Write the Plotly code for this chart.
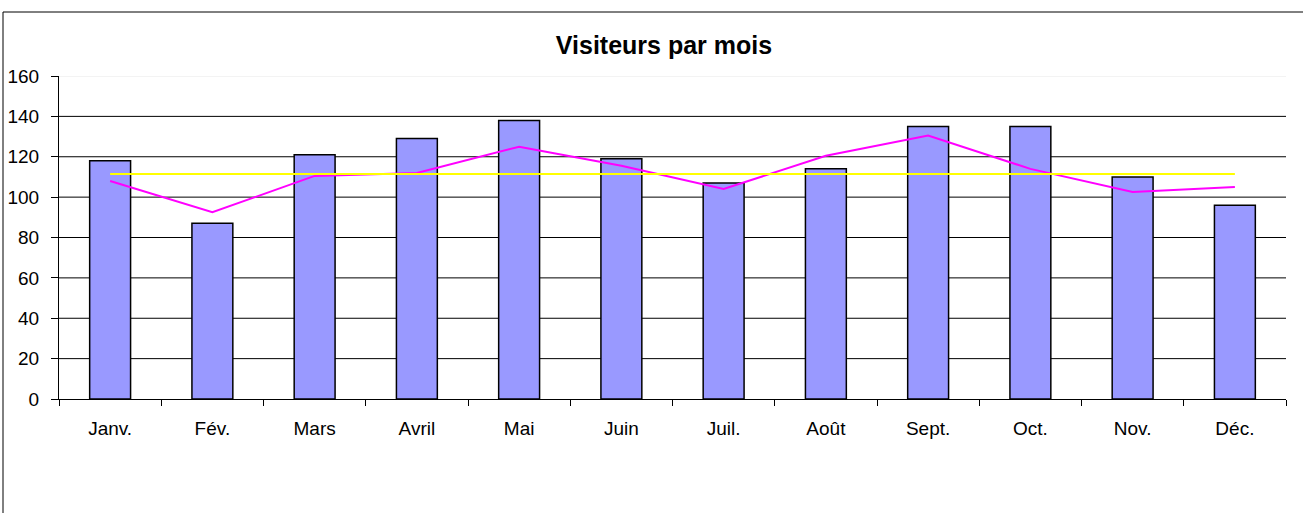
import plotly.graph_objects as go

months = ["Janv.", "Fév.", "Mars", "Avril", "Mai", "Juin", "Juil.", "Août", "Sept.", "Oct.", "Nov.", "Déc."]
visiteurs = [118, 87, 121, 129, 138, 119, 107, 114, 135, 135, 110, 96]
tendance = [108, 92.5, 110.5, 112, 125, 115.5, 104, 120.5, 130.5, 114, 102.5, 105]
moyenne = [111.5] * 12
y_ticks = [0, 20, 40, 60, 80, 100, 120, 140, 160]

W, H = 1303, 513
L, R, T, B = 59, 17, 76, 114
pw, ph = W - L - R, H - T - B

fig = go.Figure()
fig.add_trace(go.Bar(x=months, y=visiteurs, marker=dict(color="#9999FF", line=dict(color="black", width=1.5)),
                     name="Visiteurs", showlegend=False))
fig.add_trace(go.Scatter(x=months, y=tendance, mode="lines", line=dict(color="#FF00FF", width=2), showlegend=False))
fig.add_trace(go.Scatter(x=months, y=moyenne, mode="lines", line=dict(color="#FFFF00", width=2), showlegend=False))

shapes = []
for v in y_ticks[1:]:
    shapes.append(dict(type="line", xref="paper", yref="y", x0=0, x1=1, y0=v, y1=v,
                       line=dict(color="#e8e8e8" if v == y_ticks[-1] else "black", width=1), layer="below"))
# chart-area border
shapes.append(dict(type="rect", xref="paper", yref="paper",
                   x0=(3 - L) / pw, x1=(W + 10 - L) / pw,
                   y0=(H - B - (H + 10)) / ph, y1=(H - B - 12) / ph,
                   line=dict(color="black", width=1), fillcolor="rgba(0,0,0,0)"))

fig.update_layout(
    width=W, height=H,
    margin=dict(l=L, r=R, t=T, b=B, autoexpand=False),
    paper_bgcolor="white", plot_bgcolor="white",
    bargap=0.6,
    font=dict(family="Liberation Sans, Arial, sans-serif", size=19, color="black"),
    title=dict(text="<b>Visiteurs par mois</b>", x=(664 - L) / pw, xref="paper", xanchor="center",
               y=1 - 45 / H, yanchor="middle", font=dict(size=25, color="black")),
    shapes=shapes,
    xaxis=dict(type="category", showline=True, linecolor="black", linewidth=1, ticks="outside",
               tickson="boundaries", ticklen=6, tickcolor="black", showgrid=False,
               ticklabelstandoff=12, fixedrange=True, automargin=False),
    yaxis=dict(range=[0, 160], tickvals=y_ticks, showline=True, linecolor="black", linewidth=1,
               ticks="outside", ticklen=7, tickcolor="black", showgrid=False, zeroline=False,
               ticklabelstandoff=8, automargin=False),
)
fig.write_html("out.html", config={"displayModeBar": False},
               post_script="document.body.style.margin='0';document.body.style.padding='0';")
